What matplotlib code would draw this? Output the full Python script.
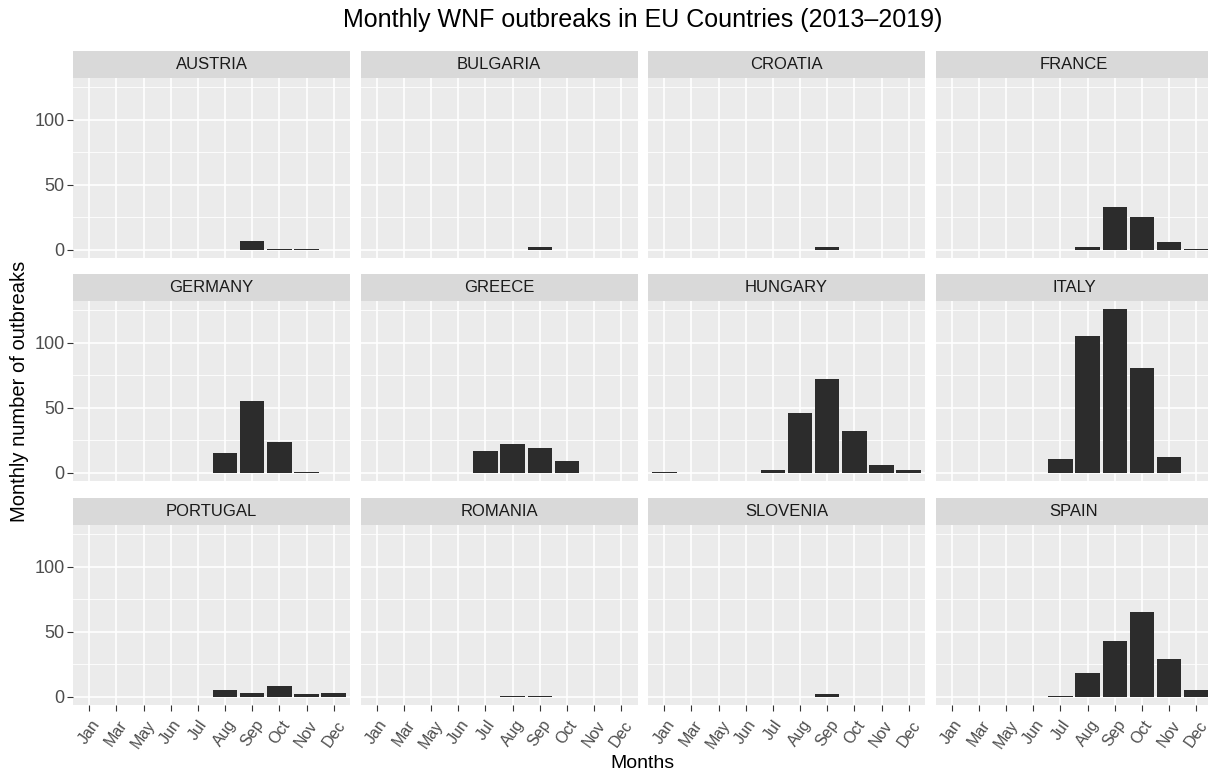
import matplotlib
matplotlib.use('Agg')
import matplotlib.pyplot as plt
from matplotlib.ticker import MultipleLocator

plt.rcParams['font.family'] = ['Liberation Sans', 'DejaVu Sans']

months = ['Jan', 'Mar', 'May', 'Jun', 'Jul', 'Aug', 'Sep', 'Oct', 'Nov', 'Dec']
countries = ['AUSTRIA', 'BULGARIA', 'CROATIA', 'FRANCE',
             'GERMANY', 'GREECE', 'HUNGARY', 'ITALY',
             'PORTUGAL', 'ROMANIA', 'SLOVENIA', 'SPAIN']

# outbreaks per month, same order as months
austria = [0, 0, 0, 0, 0, 0, 7, 1, 1, 0]
bulgaria = [0, 0, 0, 0, 0, 0, 2, 0, 0, 0]
croatia = [0, 0, 0, 0, 0, 0, 2, 0, 0, 0]
france = [0, 0, 0, 0, 0, 2, 33, 25, 6, 1]
germany = [0, 0, 0, 0, 0, 15, 55, 24, 1, 0]
greece = [0, 0, 0, 0, 17, 22, 19, 9, 0, 0]
hungary = [1, 0, 0, 0, 2, 46, 72, 32, 6, 2]
italy = [0, 0, 0, 0, 11, 105, 126, 81, 12, 0]
portugal = [0, 0, 0, 0, 0, 5, 3, 8, 2, 3]
romania = [0, 0, 0, 0, 0, 1, 1, 0, 0, 0]
slovenia = [0, 0, 0, 0, 0, 0, 2, 0, 0, 0]
spain = [0, 0, 0, 0, 1, 18, 43, 65, 29, 5]

values = [austria, bulgaria, croatia, france,
          germany, greece, hungary, italy,
          portugal, romania, slovenia, spain]

W, H = 1208, 774
fig = plt.figure(figsize=(W / 100, H / 100), dpi=100)

col_left = [73 + i * 287.5 for i in range(4)]
row_top = [78, 301, 525]
pw, ph, sh = 277, 180, 27

ymax = max(max(v) for v in values)
pad = ymax * 0.05

for k, name in enumerate(countries):
    r, c = divmod(k, 4)
    x0, y0 = col_left[c], row_top[r]
    ax = fig.add_axes([x0 / W, 1 - (y0 + ph) / H, pw / W, ph / H])
    ax.set_facecolor('#EBEBEB')
    xs = [i for i, v in enumerate(values[k]) if v > 0]
    ys = [v for v in values[k] if v > 0]
    ax.bar(xs, ys, width=0.9, color='#2c2c2c', zorder=3)
    ax.set_xlim(-0.6, len(months) - 0.4)
    ax.set_ylim(-pad, ymax + pad)
    ax.set_xticks(range(len(months)))
    ax.yaxis.set_major_locator(MultipleLocator(50))
    ax.yaxis.set_minor_locator(MultipleLocator(25))
    ax.grid(which='major', color='white', lw=1.2, zorder=1)
    ax.grid(which='minor', axis='y', color='white', lw=0.6, zorder=1)
    for s in ax.spines.values():
        s.set_visible(False)
    ax.tick_params(which='minor', length=0)
    ax.tick_params(which='major', length=4, color='#333333', labelsize=13,
                   labelcolor='#4d4d4d', pad=2)
    if c == 0:
        ax.set_yticks([0, 50, 100])
    else:
        ax.tick_params(axis='y', length=0, labelleft=False)
    if r == 2:
        ax.set_xticklabels(months, rotation=55, ha='center', va='top')
        ax.tick_params(axis='x', pad=5, labelsize=11.5)
    else:
        ax.tick_params(axis='x', length=0, labelbottom=False)

    st = fig.add_axes([x0 / W, 1 - y0 / H, pw / W, sh / H])
    st.set_facecolor('#D9D9D9')
    st.set_xticks([])
    st.set_yticks([])
    for s in st.spines.values():
        s.set_visible(False)
    st.text(0.5, 0.5, name, ha='center', va='center', fontsize=12,
            color='#1a1a1a', transform=st.transAxes)

mid_x = (col_left[0] + col_left[3] + pw) / 2 / W
fig.text(mid_x, 1 - 20 / H, 'Monthly WNF outbreaks in EU Countries (2013\u20132019)',
         ha='center', va='center', fontsize=18)
fig.text(mid_x, 1 - 764 / H, 'Months', ha='center', va='center', fontsize=14)
fig.text(20 / W, 1 - 391 / H, 'Monthly number of outbreaks', ha='center',
         va='center', rotation=90, fontsize=14.5)

fig.savefig('out.png', dpi=100)
